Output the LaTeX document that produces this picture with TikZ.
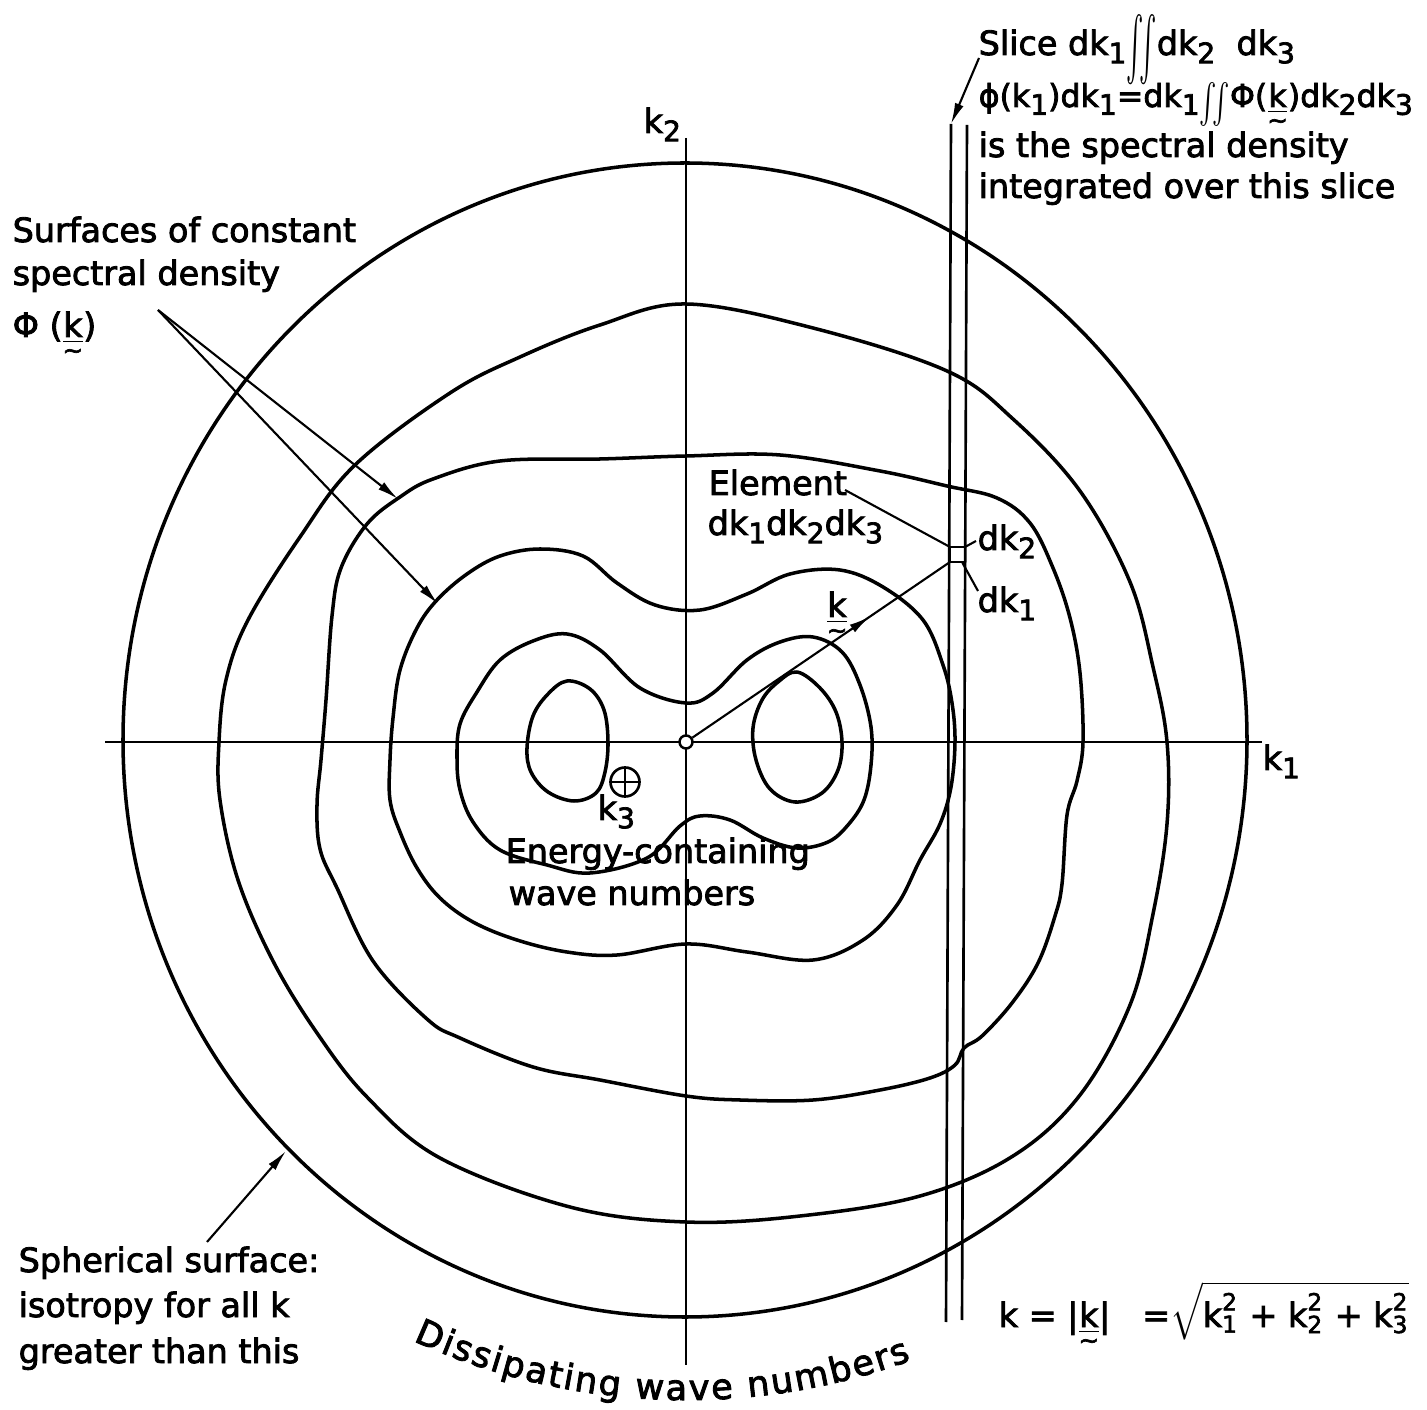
\documentclass[tikz,border=0pt]{standalone}
\usepackage{amsmath}
\usepackage{graphicx}
\usepackage{fontspec}
\setmainfont{DejaVu Sans}[RawFeature={embolden=2.5}]
\usetikzlibrary{arrows.meta,decorations.markings,decorations.text}
\newcommand\lowsub[1]{\raisebox{-0.45ex}{\fontsize{8}{8}\selectfont #1}}
\newcommand\vk{\ensuremath{\underset{\raisebox{0.5ex}{\fontsize{7}{7}\selectfont\textasciitilde}}{\underline{\text{k}}}}}
\newcommand\myTallInt{\raisebox{-0.6ex}{\scalebox{0.8}[2.0]{$\iint$}}}
\newcommand\myLowInt{\raisebox{-0.4ex}{\scalebox{0.8}[1.25]{$\iint$}}}
\begin{document}
\begin{tikzpicture}[x=0.01cm,y=-0.01cm,
  contour/.style={line width=1.0pt, line join=round},
  axis/.style={line width=0.75pt},
  leader/.style={line width=0.6pt},
  tip/.style={-{Latex[length=6pt,width=2.6pt]}},
  lbl/.style={inner sep=0pt, anchor=base west, font=\fontsize{9.5}{11}\selectfont},
]
\useasboundingbox[fill=white] (0,0) rectangle (1427,1410);

% axes
\draw[axis] (105,742) -- (1262,742);
\draw[axis] (686,138) -- (686,1365);

% outer sphere
\draw[contour] (685,740) ellipse [x radius=562, y radius=577];

% contour 2
\draw[contour] plot[smooth cycle, tension=0.6] coordinates {
 (686,304) (813,328) (947,371) (1013,419) (1080,491) (1130,582) (1153,667)
 (1167,742) (1167,824) (1153,914) (1130,1005) (1080,1095) (1013,1156)
 (920,1196) (800,1216) (686,1222) (570,1207) (440,1158) (367,1097) (317,1033)
 (273,961) (238,880) (220,800) (219,742) (226,680) (248,620) (300,537) (355,465)
 (450,393) (520,357) (600,325)};

% contour 3
\draw[contour] plot[smooth cycle, tension=0.6] coordinates {
 (686,456) (780,455) (880,471) (947,486) (997,498) (1030,523) (1053,568)
 (1070,618) (1080,673) (1083,742) (1077,781) (1067,815) (1062,884) (1055,916)
 (1038,963) (1012,1003) (982,1036) (964,1048) (955,1065) (930,1078) (880,1090)
 (813,1100) (740,1100) (686,1096) (600,1080) (533,1067) (460,1038) (427,1019)
 (373,961) (337,888) (320,849) (317,805) (321,760) (326,700)
 (332,616) (341,568) (367,524) (400,497) (433,479) (500,461) (600,459)};

% contour 4 (peanut)
\draw[contour] plot[smooth cycle, tension=0.6] coordinates {
 (700,610) (747,594) (790,574) (840,570) (883,587) (923,620) (943,665)
 (952,703) (955,742) (951,787) (940,824) (920,860) (897,905) (863,940)
 (813,960) (747,952) (686,944) (617,955) (567,952) (517,940) (473,922)
 (440,898) (417,868) (400,832) (390,800) (390,760) (393,718) (400,670)
 (417,628) (437,600) (467,574) (500,556) (540,549) (583,556) (617,583) (655,605)};

% contour 5 (inner peanut)
\draw[contour] plot[smooth cycle, tension=0.6] coordinates {
 (686,703) (713,693) (747,660) (780,642) (813,637) (842,652) (860,685)
 (871,727) (871,765) (864,800) (848,825) (828,842) (797,848) (763,838)
 (730,820) (700,816) (680,826) (647,858) (590,873) (547,865) (500,850)
 (473,822) (460,790) (457,758) (460,724) (477,692) (500,660) (533,641)
 (567,634) (600,650) (640,688)};

% lobes
\draw[contour] plot[smooth cycle, tension=0.6] coordinates {
 (567,681) (590,689) (604,710) (608,742) (605,772) (596,793) (574,801)
 (548,792) (531,772) (527,748) (533,716) (548,694)};
\draw[contour] plot[smooth cycle, tension=0.6] coordinates {
 (797,672) (820,688) (836,712) (842,742) (838,770) (822,793) (795,802)
 (770,789) (756,760) (753,728) (762,700) (778,682)};

% slice lines
\coordinate (slTop) at (951,124);
\draw[axis] (slTop) -- (946,1322);
\draw[axis] (967,125) -- (962,1320);

% element box
\coordinate (bTL) at (950,547);
\coordinate (bTR) at (965,547);
\coordinate (bBL) at (950,562);
\coordinate (bBR) at (965,562);
\draw[leader] (bTL) rectangle (bBR);

% origin
\node[circle, draw, line width=0.7pt, fill=white, inner sep=0pt, minimum size=0.13cm] (O) at (686,742) {};

% k vector
\draw[leader, postaction={decorate}, decoration={markings,
  mark=at position 0.69 with {\arrow{Latex[length=6pt,width=2.6pt]}}}] (O) -- (bBL);

% k3 symbol
\node[circle, draw, line width=0.75pt, inner sep=0pt, minimum size=0.29cm] (op) at (625,782) {};
\draw[line width=0.75pt] (op.north) -- (op.south) (op.west) -- (op.east);

% texts
\node[lbl] (s1) at (978,55) {Slice dk\lowsub{1}\myTallInt dk\lowsub{2}\ \ dk\lowsub{3}};
\node[lbl, font=\fontsize{9}{11}\selectfont] (s2) at (978,107) {ϕ(k\lowsub{1})dk\lowsub{1}=dk\lowsub{1}\myLowInt Φ(\vk)dk\lowsub{2}dk\lowsub{3}};
\node[lbl] (s3) at (978,157) {is the spectral density};
\node[lbl] (s4) at (978,198) {integrated over this slice};

\node[lbl] (a1) at (12,242) {Surfaces of constant};
\node[lbl] (a2) at (12,285) {spectral density};
\node[lbl] (a3) at (12,337) {Φ (\vk)};

\node[lbl] (el) at (708,495) {Element};
\node[lbl] (el2) at (707,535) {dk\lowsub{1}dk\lowsub{2}dk\lowsub{3}};
\node[lbl] (d2) at (977,550) {dk\lowsub{2}};
\node[lbl] (d1) at (977,612) {dk\lowsub{1}};
\node[lbl] (kv) at (826,617) {\vk};
\node[lbl] (k2) at (643,133) {k\lowsub{2}};
\node[lbl] (k1) at (1262,770) {k\lowsub{1}};
\node[lbl] (k3) at (597,820) {k\lowsub{3}};
\node[lbl] (en) at (505,863) {Energy-containing};
\node[lbl] (wn) at (508,905) {wave numbers};
\node[lbl] (sp1) at (18,1272) {Spherical surface:};
\node[lbl] (sp2) at (18,1317) {isotropy for all k};
\node[lbl] (sp3) at (18,1363) {greater than this};
\node[lbl] (form) at (998,1327) {k = |\vk| \ \ =$\sqrt{\text{k}_{\text{1}}^{\text{2}}\text{ + }\text{k}_{\text{2}}^{\text{2}}\text{ + }\text{k}_{\text{3}}^{\text{2}}}$};

% leaders
\coordinate (apex) at (158,310);
\coordinate (t1) at (398,499);
\coordinate (t2) at (438,604);
\draw[leader,tip] (apex) -- (t1);
\draw[leader,tip] (apex) -- (t2);

\coordinate (slA) at (979,58);
\draw[leader,tip] (slA) -- (slTop);

\coordinate (elA) at (845,490);
\draw[leader] (elA) -- (bTL);
\coordinate (d2A) at (976,541);
\draw[leader] (bTR) -- (d2A);
\coordinate (d1A) at (978,591);
\draw[leader] (bBR) ++(-3,0) -- (d1A);

\coordinate (spA) at (207,1242);
\coordinate (spB) at (286,1151);
\draw[leader,tip] (spA) -- (spB);

% dissipating wave numbers
\path[decorate, decoration={text along path,
  text={|\fontsize{10}{12}\selectfont|Dissipating wave numbers},
  text align={fit to path}}]
  (413.1,1340.8) arc[start angle=114.5, end angle=70, radius=658];
\end{tikzpicture}
\end{document}
